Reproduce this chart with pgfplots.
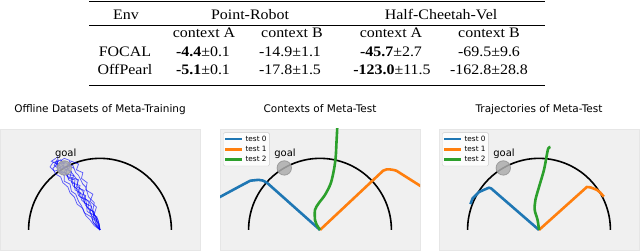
\documentclass[border=0pt]{standalone}
\usepackage{pgfplots}
\usepackage{pgfplotstable}
\pgfplotsset{compat=1.18}
\usepackage{fontspec}
\setmainfont{DejaVu Sans}
\newfontfamily\tabfont[FakeStretch=1.1]{Liberation Serif}
\definecolor{bgc}{HTML}{F0F0F0}
\definecolor{c0}{HTML}{1F77B4}
\definecolor{c1}{HTML}{FF7F0E}
\definecolor{c2}{HTML}{2CA02C}

\pgfplotstableread{
x y
1 0
0.9962 0.0872
0.9848 0.1736
0.9659 0.2588
0.9397 0.3420
0.9063 0.4226
0.8660 0.5
0.8192 0.5736
0.7660 0.6428
0.7071 0.7071
0.6428 0.7660
0.5736 0.8192
0.5 0.8660
0.4226 0.9063
0.3420 0.9397
0.2588 0.9659
0.1736 0.9848
0.0872 0.9962
0 1
-0.0872 0.9962
-0.1736 0.9848
-0.2588 0.9659
-0.3420 0.9397
-0.4226 0.9063
-0.5 0.8660
-0.5736 0.8192
-0.6428 0.7660
-0.7071 0.7071
-0.7660 0.6428
-0.8192 0.5736
-0.8660 0.5
-0.9063 0.4226
-0.9397 0.3420
-0.9659 0.2588
-0.9848 0.1736
-0.9962 0.0872
-1 0
}\semitab

\pgfplotstableread{
x y
-0.5 0.866
}\goaltab

% Panel 2 (contexts)
\pgfplotstableread{
x y
0 0
-0.743 0.66
-0.80 0.69
-0.86 0.70
-0.976 0.688
-1.116 0.614
-1.395 0.464
-1.55 0.38
}\ctxA
\pgfplotstableread{
x y
0 0
0.883 0.827
0.93 0.845
0.976 0.846
1.03 0.838
1.07 0.827
1.385 0.628
1.55 0.52
}\ctxB
\pgfplotstableread{
x y
0 0
-0.05 0.08
-0.07 0.14
-0.07 0.28
-0.02 0.37
0.07 0.49
0.15 0.65
0.195 0.84
0.22 1.02
0.23 1.21
0.24 1.395
0.245 1.55
}\ctxC

% Panel 3 (trajectories)
\pgfplotstableread{
x y
0 0
-0.67 0.58
-0.70 0.59
-0.76 0.565
-0.84 0.53
-0.93 0.44
-0.96 0.36
}\trA
\pgfplotstableread{
x y
0 0
0.67 0.60
0.72 0.595
0.81 0.56
0.86 0.52
0.907 0.465
}\trB
\pgfplotstableread{
x y
0 0
-0.02 0.14
-0.06 0.28
-0.05 0.42
0 0.6
0.07 0.84
0.11 1.05
0.13 1.14
0.16 1.16
}\trC

% Panel 1 (offline data)
\pgfplotstableread{
x y
0 0
-0.03 0.1
-0.1 0.16
-0.08 0.25
-0.17 0.3
-0.15 0.4
-0.25 0.46
-0.22 0.55
-0.33 0.6
-0.3 0.7
-0.42 0.74
-0.4 0.82
-0.52 0.86
-0.5 0.94
-0.6 0.92
-0.58 0.98
}\oA
\pgfplotstableread{
x y
0 0
-0.06 0.08
-0.04 0.18
-0.14 0.24
-0.12 0.33
-0.22 0.38
-0.2 0.48
-0.3 0.52
-0.28 0.62
-0.4 0.66
-0.37 0.76
-0.48 0.78
-0.45 0.88
-0.56 0.86
-0.62 0.94
-0.55 0.98
-0.5 0.92
}\oB
\pgfplotstableread{
x y
0 0
-0.02 0.12
-0.08 0.22
-0.05 0.32
-0.14 0.4
-0.1 0.5
-0.2 0.56
-0.18 0.66
-0.26 0.72
-0.24 0.8
-0.33 0.84
-0.3 0.92
-0.4 0.96
-0.45 0.9
-0.36 0.86
}\oC
\pgfplotstableread{
x y
0 0
-0.08 0.06
-0.14 0.14
-0.2 0.2
-0.24 0.3
-0.32 0.36
-0.36 0.46
-0.42 0.52
-0.45 0.6
-0.52 0.66
-0.55 0.74
-0.62 0.78
-0.66 0.86
-0.6 0.92
-0.68 0.96
-0.62 1.0
}\oD
\pgfplotstableread{
x y
0 0
-0.05 0.14
-0.12 0.2
-0.16 0.3
-0.2 0.34
-0.24 0.44
-0.3 0.48
-0.33 0.58
-0.38 0.62
-0.4 0.72
-0.46 0.75
-0.5 0.82
-0.44 0.86
-0.52 0.9
-0.58 0.86
-0.64 0.9
-0.6 0.98
}\oE
\pgfplotstableread{
x y
0 0
-0.01 0.08
-0.06 0.16
-0.1 0.28
-0.08 0.38
-0.16 0.46
-0.2 0.6
-0.24 0.64
-0.3 0.76
-0.34 0.8
-0.38 0.9
-0.46 0.9
-0.42 0.97
-0.5 1.0
-0.56 0.96
}\oF
\pgfplotstableread{
x y
0 0
-0.07 0.12
-0.1 0.26
-0.18 0.32
-0.2 0.42
-0.28 0.46
-0.3 0.56
-0.36 0.6
-0.35 0.7
-0.44 0.72
-0.48 0.8
-0.56 0.8
-0.6 0.88
-0.54 0.94
-0.48 0.96
}\oG
\pgfplotstableread{
x y
0 0
-0.04 0.04
-0.1 0.12
-0.12 0.22
-0.18 0.26
-0.19 0.36
-0.26 0.42
-0.27 0.52
-0.35 0.56
-0.36 0.66
-0.44 0.7
-0.46 0.78
-0.54 0.82
-0.56 0.9
-0.6 0.9
-0.59 0.98
-0.59 1.03
}\oH
\pgfplotstableread{
x y
0 0
-0.03 0.15
-0.1 0.24
-0.13 0.36
-0.21 0.44
-0.24 0.54
-0.32 0.62
-0.32 0.7
-0.38 0.78
-0.44 0.84
-0.42 0.9
-0.48 0.94
-0.54 0.92
-0.5 0.86
-0.46 0.82
}\oI
\pgfplotstableread{
x y
0 0
-0.09 0.1
-0.12 0.18
-0.22 0.24
-0.26 0.34
-0.3 0.4
-0.34 0.5
-0.4 0.54
-0.42 0.64
-0.5 0.68
-0.5 0.76
-0.58 0.84
-0.64 0.82
-0.7 0.88
-0.66 0.94
-0.6 0.96
}\oJ

\pgfplotsset{
  panel/.style={scale only axis, width=200pt, height=121pt,
    xmin=-1.4, xmax=1.4, ymin=-0.28, ymax=1.41,
    xtick=\empty, ytick=\empty,
    axis background/.style={fill=bgc},
    axis line style={draw=bgc!96!black, line width=0.4pt},
    title style={at={(0.5,1)}, anchor=base, yshift=10.5pt,
      font=\fontsize{10.5}{12}\selectfont},
    anchor=south west},
  semi/.style={black, line width=1.6pt, smooth},
  goalmark/.style={only marks, mark=*, mark size=7.2pt,
    mark options={fill=black!32, draw=black!42, line width=0.8pt, opacity=0.85}},
  tl/.style={line width=2.6pt},
  off/.style={blue, opacity=0.62, line width=0.75pt},
  leg/.style={legend style={at={(0.015,0.972)}, anchor=north west,
      font=\fontsize{7.3}{8}\selectfont, draw=black!20, fill=white,
      fill opacity=0.85, text opacity=1, rounded corners=1.5pt,
      inner sep=1pt, row sep=-0.6pt, cells={anchor=west}},
    legend image code/.code={\draw[##1, line width=2.4pt] (0pt,0pt) -- (17pt,0pt);}},
}

\begin{document}
\begin{tikzpicture}
\useasboundingbox (0pt,0pt) rectangle (640pt,-251pt);

% ----- table -----
\tikzset{tab/.style={font=\tabfont\fontsize{14.5}{16}\selectfont, anchor=base, inner sep=0pt}}
\draw[line width=1.6pt] (89pt,-1.7pt) -- (545pt,-1.7pt);
\draw[line width=0.5pt] (89pt,-25pt) -- (545pt,-25pt);
\draw[line width=1.4pt] (89pt,-85.5pt) -- (545pt,-85.5pt);
\node[tab] at (126pt,-20pt) {Env};
\node[tab] at (250pt,-20pt) {Point-Robot};
\node[tab] at (441pt,-20pt) {Half-Cheetah-Vel};
\node[tab] at (204pt,-38pt) {context A};
\node[tab] at (292pt,-38pt) {context B};
\node[tab] at (391pt,-38pt) {context A};
\node[tab] at (489pt,-38pt) {context B};
\node[tab] at (125pt,-57pt) {FOCAL};
\node[tab] at (203pt,-57pt) {\textbf{-4.4}±0.1};
\node[tab] at (290pt,-57pt) {-14.9±1.1};
\node[tab] at (391pt,-57pt) {\textbf{-45.7}±2.7};
\node[tab] at (489pt,-57pt) {-69.5±9.6};
\node[tab] at (125pt,-75pt) {OffPearl};
\node[tab] at (203pt,-75pt) {\textbf{-5.1}±0.1};
\node[tab] at (290pt,-75pt) {-17.8±1.5};
\node[tab] at (392pt,-75pt) {\textbf{-123.0}±11.5};
\node[tab] at (489pt,-75pt) {-162.8±28.8};

% ----- panel 1 -----
\begin{axis}[panel, at={(0pt,-250pt)}, title={Offline Datasets of Meta-Training}]
\addplot[semi] table {\semitab};
\addplot[goalmark] table {\goaltab};
\addplot[off] table {\oA};
\addplot[off] table {\oB};
\addplot[off] table {\oC};
\addplot[off] table {\oD};
\addplot[off] table {\oE};
\addplot[off] table {\oF};
\addplot[off] table {\oG};
\addplot[off] table {\oH};
\addplot[off] table {\oI};
\addplot[off] table {\oJ};
\node[font=\fontsize{10}{12}\selectfont] at (axis cs:-0.48,1.07) {goal};
\end{axis}

% ----- panel 2 -----
\begin{axis}[panel, leg, at={(220pt,-250pt)}, title={Contexts of Meta-Test}]
\addplot[semi, forget plot] table {\semitab};
\addplot[goalmark, forget plot] table {\goaltab};
\addplot[c0, tl] table {\ctxA};
\addplot[c1, tl] table {\ctxB};
\addplot[c2, tl, smooth] table {\ctxC};
\node[font=\fontsize{10}{12}\selectfont] at (axis cs:-0.49,1.07) {goal};
\legend{test 0, test 1, test 2}
\end{axis}

% ----- panel 3 -----
\begin{axis}[panel, leg, at={(439pt,-250pt)}, title={Trajectories of Meta-Test}]
\addplot[semi, forget plot] table {\semitab};
\addplot[goalmark, forget plot] table {\goaltab};
\addplot[c0, tl] table {\trA};
\addplot[c1, tl] table {\trB};
\addplot[c2, tl, smooth] table {\trC};
\node[font=\fontsize{10}{12}\selectfont] at (axis cs:-0.49,1.07) {goal};
\legend{test 0, test 1, test 2}
\end{axis}
\end{tikzpicture}
\end{document}
